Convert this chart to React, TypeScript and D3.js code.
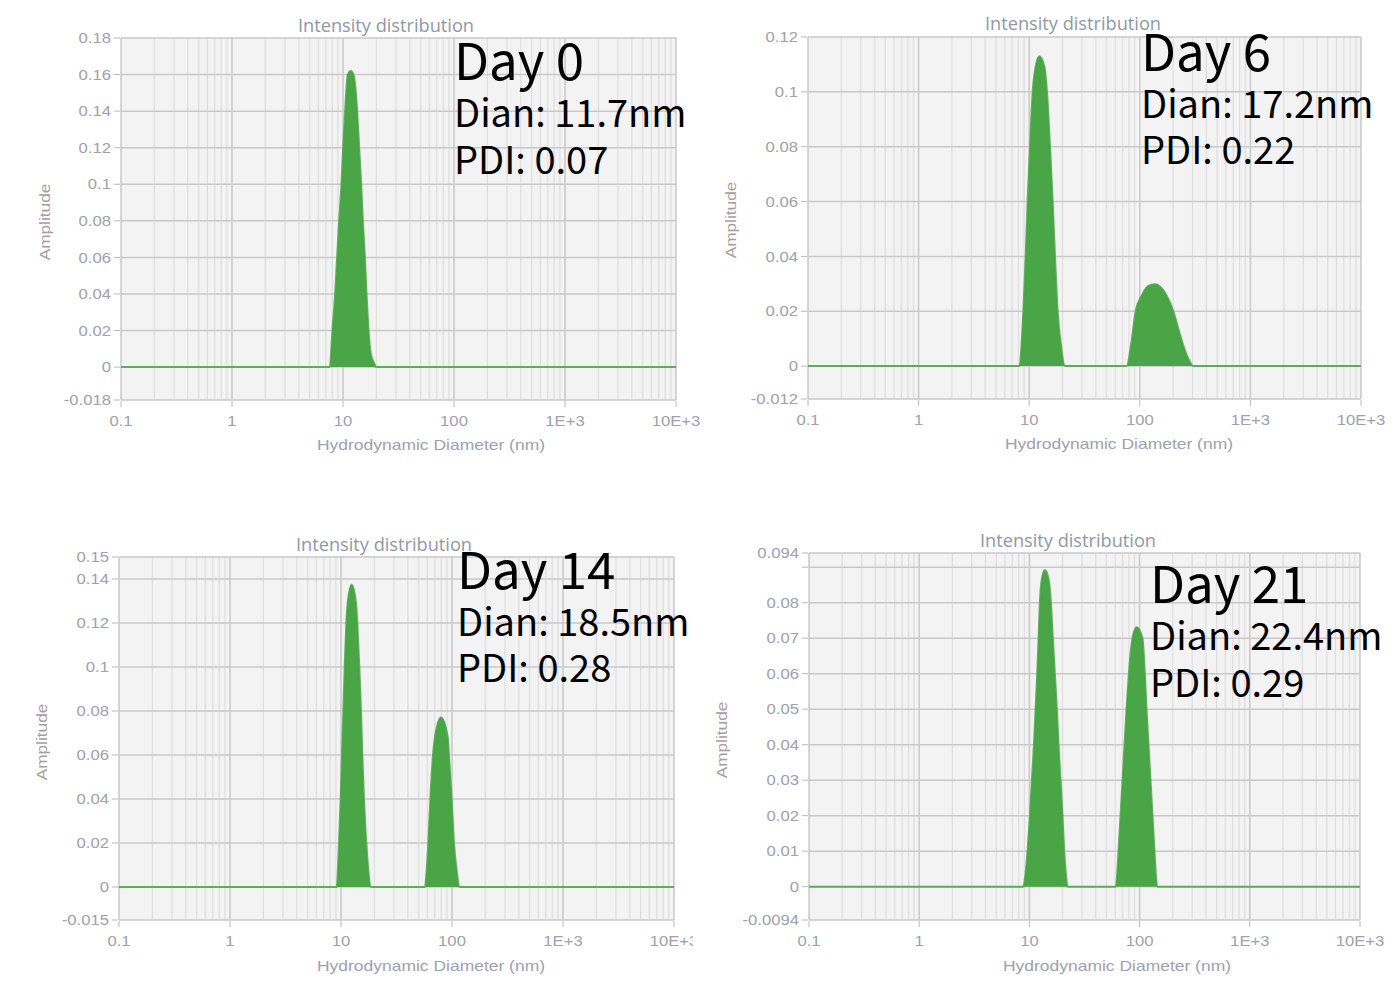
import React from "react";
import * as d3 from "d3";

// ---- data ----
const day0Diam = [0.1, 7.6, 8.03, 8.49, 8.85, 9.23, 9.68, 10.03, 10.45, 11.05, 11.76, 12.43, 13.42, 13.99, 14.58, 15.1, 15.74, 16.3, 17.0, 17.84, 19.12, 19.8, 10000];
const day0Amp = [0, 0, 0.02, 0.04, 0.06, 0.08, 0.1, 0.12, 0.14, 0.16, 0.162, 0.16, 0.14, 0.12, 0.1, 0.08, 0.06, 0.04, 0.02, 0.007, 0.002, 0, 0];

const day6Diam = [0.1, 8.09, 8.85, 9.29, 9.68, 10.17, 10.75, 11.44, 12.35, 13.7, 14.48, 15.43, 16.3, 17.11, 18.09, 19.39, 21.07, 76.1, 83.2, 91.8, 104.0, 119.4, 137.2, 152.2, 175.0, 201.0, 223.1, 247.5, 274.7, 304.8, 10000];
const day6Amp = [0, 0, 0.02, 0.04, 0.06, 0.08, 0.1, 0.1093, 0.113, 0.1093, 0.1, 0.08, 0.06, 0.04, 0.02, 0.0075, 0, 0, 0.0075, 0.02, 0.0257, 0.0292, 0.0298, 0.029, 0.0257, 0.02, 0.0136, 0.0075, 0.0027, 0, 0];

const day14Diam = [0.1, 9.14, 9.59, 9.93, 10.21, 10.5, 10.79, 11.17, 11.48, 12.48, 13.65, 14.03, 14.63, 15.14, 15.57, 16.11, 16.92, 17.63, 18.63, 57.1, 59.1, 61.2, 63.8, 67.4, 70.3, 79.6, 91.4, 93.9, 99.3, 104.2, 110.2, 116.4, 10000];
const day14Amp = [0, 0, 0.02, 0.04, 0.06, 0.08, 0.1, 0.12, 0.129, 0.1374, 0.129, 0.12, 0.1, 0.08, 0.06, 0.04, 0.02, 0.0076, 0, 0, 0.0076, 0.02, 0.04, 0.06, 0.0683, 0.0771, 0.0683, 0.06, 0.04, 0.02, 0.0076, 0, 0];

const day21Diam = [0.1, 8.79, 9.23, 9.62, 10.11, 10.54, 10.99, 11.38, 11.78, 12.11, 12.45, 12.89, 13.83, 15.03, 15.67, 16.33, 17.02, 17.75, 18.39, 19.17, 19.98, 20.69, 21.42, 22.19, 60.9, 62.6, 64.4, 67.1, 70.0, 73.0, 76.1, 79.9, 86.2, 93.8, 106.2, 111.6, 115.6, 120.5, 125.6, 130.9, 136.5, 140.3, 144.3, 10000];
const day21Amp = [0, 0, 0.0037, 0.01, 0.02, 0.03, 0.04, 0.05, 0.06, 0.07, 0.08, 0.0862, 0.0892, 0.0862, 0.08, 0.07, 0.06, 0.05, 0.04, 0.03, 0.02, 0.01, 0.0037, 0, 0, 0.0037, 0.01, 0.02, 0.03, 0.04, 0.05, 0.06, 0.07, 0.0731, 0.07, 0.06, 0.05, 0.04, 0.03, 0.02, 0.01, 0.0037, 0, 0];

const xTickValues = [0.1, 1, 10, 100, 1000, 10000];
const xTickLabels = ["0.1", "1", "10", "100", "1E+3", "10E+3"];

const day0YTicks = [-0.018, 0, 0.02, 0.04, 0.06, 0.08, 0.1, 0.12, 0.14, 0.16, 0.18];
const day0YLabels = ["-0.018", "0", "0.02", "0.04", "0.06", "0.08", "0.1", "0.12", "0.14", "0.16", "0.18"];
const day6YTicks = [-0.012, 0, 0.02, 0.04, 0.06, 0.08, 0.1, 0.12];
const day6YLabels = ["-0.012", "0", "0.02", "0.04", "0.06", "0.08", "0.1", "0.12"];
const day14YTicks = [-0.015, 0, 0.02, 0.04, 0.06, 0.08, 0.1, 0.12, 0.14, 0.15];
const day14YLabels = ["-0.015", "0", "0.02", "0.04", "0.06", "0.08", "0.1", "0.12", "0.14", "0.15"];
const day21YTicks = [-0.0094, 0, 0.01, 0.02, 0.03, 0.04, 0.05, 0.06, 0.07, 0.08, 0.09, 0.094];
const day21YLabels = ["-0.0094", "0", "0.01", "0.02", "0.03", "0.04", "0.05", "0.06", "0.07", "0.08", "", "0.094"];

const dayNames = ["Day 0", "Day 6", "Day 14", "Day 21"];
const dianLabels = ["Dian: 11.7nm", "Dian: 17.2nm", "Dian: 18.5nm", "Dian: 22.4nm"];
const pdiLabels = ["PDI: 0.07", "PDI: 0.22", "PDI: 0.28", "PDI: 0.29"];

const titleText = "Intensity distribution";
const xAxisTitle = "Hydrodynamic Diameter (nm)";
const yAxisTitle = "Amplitude";

// ---- layout ----
const layouts = [
  { x0: 121, x1: 676, yTop: 38, yBot: 400, yMin: -0.018, yMax: 0.18, titleX: 386, titleY: 32, xlabX: 431, xlabY: 450, ylabX: 45, ylabY: 222, annX: 454, annY: [80, 127, 174], clipW: 1400 },
  { x0: 808, x1: 1361, yTop: 37, yBot: 399, yMin: -0.012, yMax: 0.12, titleX: 1073, titleY: 30, xlabX: 1119, xlabY: 449, ylabX: 731, ylabY: 220, annX: 1141, annY: [71, 118, 164], clipW: 1400 },
  { x0: 119, x1: 674, yTop: 557, yBot: 920, yMin: -0.015, yMax: 0.15, titleX: 384, titleY: 551, xlabX: 431, xlabY: 971, ylabX: 42, ylabY: 742, annX: 457, annY: [589, 636, 682], clipW: 693 },
  { x0: 809, x1: 1360, yTop: 553, yBot: 920, yMin: -0.0094, yMax: 0.094, titleX: 1068, titleY: 547, xlabX: 1117, xlabY: 971, ylabX: 722, ylabY: 740, annX: 1150, annY: [603, 650, 697], clipW: 1400 },
];

const seriesDiam = [day0Diam, day6Diam, day14Diam, day21Diam];
const seriesAmp = [day0Amp, day6Amp, day14Amp, day21Amp];
const yTicksAll = [day0YTicks, day6YTicks, day14YTicks, day21YTicks];
const yLabelsAll = [day0YLabels, day6YLabels, day14YLabels, day21YLabels];

const axisFont = "'Liberation Sans', Arial, sans-serif";
const tickColor = "#a0a0ae";
const green = "#4aa547";
const annFont = "'Noto Sans CJK SC', 'Noto Sans', sans-serif";
const stretch = 1.15;

function WideText(props: { x: number; y: number; anchor: string; size: number; fill: string; rotate?: number; dy?: string; children: React.ReactNode }) {
  const rot = props.rotate ? ` rotate(${props.rotate})` : "";
  return (
    <text
      transform={`translate(${props.x},${props.y})${rot} scale(${stretch},1)`}
      textAnchor={props.anchor}
      dy={props.dy}
      fontFamily={axisFont}
      fontSize={props.size}
      fill={props.fill}
    >
      {props.children}
    </text>
  );
}

function Panel({ i }: { i: number }) {
  const L = layouts[i];
  const x = d3.scaleLog().domain([0.1, 10000]).range([L.x0, L.x1]);
  const y = d3.scaleLinear().domain([L.yMin, L.yMax]).range([L.yBot, L.yTop]);
  const pts = seriesDiam[i].map((d, k) => [d, seriesAmp[i][k]] as [number, number]);
  const area = d3
    .area<[number, number]>()
    .x((p) => x(p[0]))
    .y0(y(0))
    .y1((p) => y(p[1]))
    .curve(d3.curveMonotoneX);
  const line = d3
    .line<[number, number]>()
    .x((p) => x(p[0]))
    .y((p) => y(p[1]))
    .curve(d3.curveMonotoneX);

  const minor: number[] = [];
  for (let e = -1; e < 4; e++) {
    for (let m = 2; m <= 9; m++) minor.push(m * Math.pow(10, e));
  }
  const yt = yTicksAll[i];
  const yl = yLabelsAll[i];
  const clipId = `clip${i}`;

  return (
    <g clipPath={`url(#${clipId})`}>
      <defs>
        <clipPath id={clipId}>
          <rect x={0} y={0} width={L.clipW} height={982} />
        </clipPath>
      </defs>
      <rect x={L.x0} y={L.yTop} width={L.x1 - L.x0} height={L.yBot - L.yTop} fill="#f3f3f3" />
      {minor.map((v) => (
        <line key={"m" + v} x1={x(v)} x2={x(v)} y1={L.yTop} y2={L.yBot} stroke="#dedede" strokeWidth={1.2} />
      ))}
      {xTickValues.map((v) => (
        <line key={"M" + v} x1={x(v)} x2={x(v)} y1={L.yTop} y2={L.yBot} stroke="#c9c9c9" strokeWidth={1.5} />
      ))}
      {yt.map((v) => (
        <line key={"h" + v} x1={L.x0} x2={L.x1} y1={y(v)} y2={y(v)} stroke="#c9c9c9" strokeWidth={1.5} />
      ))}
      {yt.map((v) => (
        <line key={"yt" + v} x1={L.x0 - 7} x2={L.x0 - 1} y1={y(v)} y2={y(v)} stroke="#b8b8c0" strokeWidth={1} />
      ))}
      {xTickValues.map((v) => (
        <line key={"xt" + v} x1={x(v)} x2={x(v)} y1={L.yBot + 1} y2={L.yBot + 7} stroke="#b8b8c0" strokeWidth={1} />
      ))}
      {yt.map((v, k) => (
        <WideText key={"yl" + v} x={L.x0 - 10} y={y(v)} dy="0.36em" anchor="end" size={14.5} fill={tickColor}>
          {yl[k]}
        </WideText>
      ))}
      {xTickValues.map((v, k) => (
        <WideText key={"xl" + v} x={x(v)} y={L.yBot + 26} anchor="middle" size={14.5} fill={tickColor}>
          {xTickLabels[k]}
        </WideText>
      ))}
      <path d={area(pts) || ""} fill={green} />
      <path d={line(pts) || ""} fill="none" stroke={green} strokeWidth={2} strokeOpacity={0.85} />
      <text x={L.titleX} y={L.titleY} textAnchor="middle" fontFamily="'Open Sans', sans-serif" fontSize={18.2} fill="#8e98a8">
        {titleText}
      </text>
      <WideText x={L.xlabX} y={L.xlabY} anchor="middle" size={15.2} fill={tickColor}>
        {xAxisTitle}
      </WideText>
      <WideText x={L.ylabX} y={L.ylabY} rotate={-90} dy="0.35em" anchor="middle" size={15} fill="#a89ca2">
        {yAxisTitle}
      </WideText>
      <text x={L.annX} y={L.annY[0]} fontFamily={annFont} fontSize={51} fill="#000">
        {dayNames[i]}
      </text>
      <text x={L.annX} y={L.annY[1]} fontFamily={annFont} fontSize={38} fill="#000">
        {dianLabels[i]}
      </text>
      <text x={L.annX} y={L.annY[2]} fontFamily={annFont} fontSize={38} fill="#000">
        {pdiLabels[i]}
      </text>
    </g>
  );
}

export default function App() {
  return (
    <svg width={1400} height={982} style={{ position: "absolute", left: 0, top: 0, background: "#fff" }}>
      <rect width={1400} height={982} fill="#fff" />
      {[0, 1, 2, 3].map((i) => (
        <Panel key={i} i={i} />
      ))}
    </svg>
  );
}
